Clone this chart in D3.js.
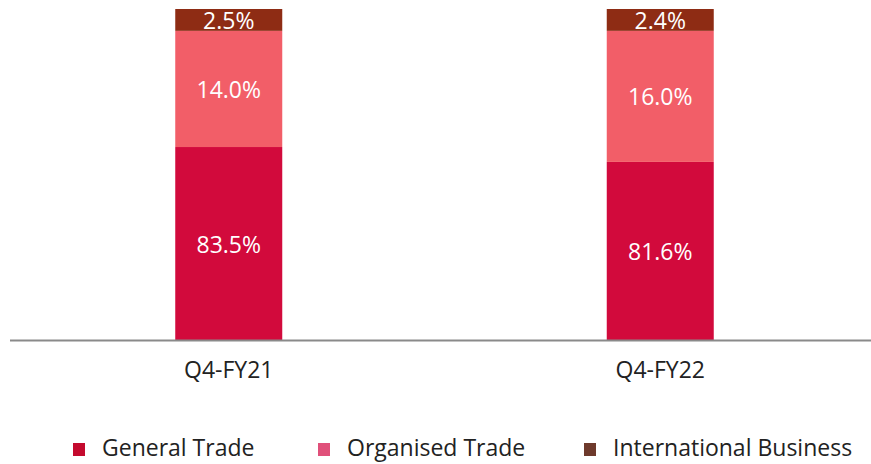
<!DOCTYPE html>
<html>
<head>
<meta charset="utf-8">
<script src="https://cdn.jsdelivr.net/npm/d3@7"></script>
<style>
  body { margin: 0; background: #fff; }
  text { font-family: "Open Sans", sans-serif; }
</style>
</head>
<body>
<div id="chart"></div>
<script>
// quarters on the x axis
var quarters = ["Q4-FY21", "Q4-FY22"];
var seriesNames = ["General Trade", "Organised Trade", "International Business"];

// share labels printed in each segment (%)
var generalTrade = [83.5, 81.6];
var organisedTrade = [14.0, 16.0];
var internationalBusiness = [2.5, 2.4];

// segment heights as drawn in the original (% of bar), not to scale with the labels
var generalShown = [58.3, 53.8];
var organisedShown = [35.1, 39.6];
var internationalShown = [6.6, 6.6];

var colors = ["#d20a3c", "#f25e68", "#8e2c14"];
var legendColors = ["#c40a2e", "#e0507a", "#6e3a2c"];

var width = 871, height = 464;

var svg = d3.select("#chart").append("svg")
    .attr("width", width)
    .attr("height", height);

var x = d3.scaleBand().domain(quarters).range([13, 876]);
var barW = 107;
var y = d3.scaleLinear().domain([0, 100]).range([340, 9]);

// build stack rows from the arrays
var rows = quarters.map(function(q, i) {
    return {
        quarter: q,
        "General Trade": generalShown[i],
        "Organised Trade": organisedShown[i],
        "International Business": internationalShown[i],
        labels: [generalTrade[i], organisedTrade[i], internationalBusiness[i]]
    };
});

var stack = d3.stack().keys(seriesNames)(rows);

var layer = svg.selectAll("g.layer")
    .data(stack)
    .enter().append("g")
    .attr("class", "layer")
    .attr("fill", function(d, i) { return colors[i]; });

layer.selectAll("rect")
    .data(function(d) { return d; })
    .enter().append("rect")
    .attr("x", function(d) { return x(d.data.quarter) + x.bandwidth() / 2 - barW / 2; })
    .attr("y", function(d) { return y(d[1]); })
    .attr("width", barW)
    .attr("height", function(d) { return y(d[0]) - y(d[1]); });

layer.each(function(s, si) {
    d3.select(this).selectAll("text")
        .data(s)
        .enter().append("text")
        .attr("x", function(d) { return x(d.data.quarter) + x.bandwidth() / 2; })
        .attr("y", function(d) { return (y(d[0]) + y(d[1])) / 2 + 1; })
        .attr("dy", "0.35em")
        .attr("text-anchor", "middle")
        .attr("fill", "#fff")
        .style("font-size", "23px")
        .text(function(d) { return d.data.labels[si].toFixed(1) + "%"; });
});

// axis line
svg.append("line")
    .attr("x1", 10).attr("x2", width)
    .attr("y1", y(0) + 0.5).attr("y2", y(0) + 0.5)
    .attr("stroke", "#8a8a8a")
    .attr("stroke-width", 2);

var xAxis = svg.append("g")
    .attr("transform", "translate(0," + y(0) + ")")
    .call(d3.axisBottom(x).tickSize(0).tickPadding(22));
xAxis.select(".domain").remove();
xAxis.selectAll("text")
    .style("font-size", "23px")
    .style("font-family", "'Open Sans', sans-serif")
    .attr("fill", "#222");

// legend
var legendX = [73, 318, 584];
var legend = svg.selectAll("g.legend")
    .data(seriesNames)
    .enter().append("g")
    .attr("class", "legend")
    .attr("transform", function(d, i) { return "translate(" + legendX[i] + ",448)"; });

legend.append("rect")
    .attr("x", 0).attr("y", -5)
    .attr("width", 12).attr("height", 13)
    .attr("fill", function(d, i) { return legendColors[i]; });

legend.append("text")
    .attr("x", 29)
    .attr("dy", "0.35em")
    .attr("fill", "#222")
    .style("font-size", "23px")
    .text(function(d) { return d; });
</script>
</body>
</html>
